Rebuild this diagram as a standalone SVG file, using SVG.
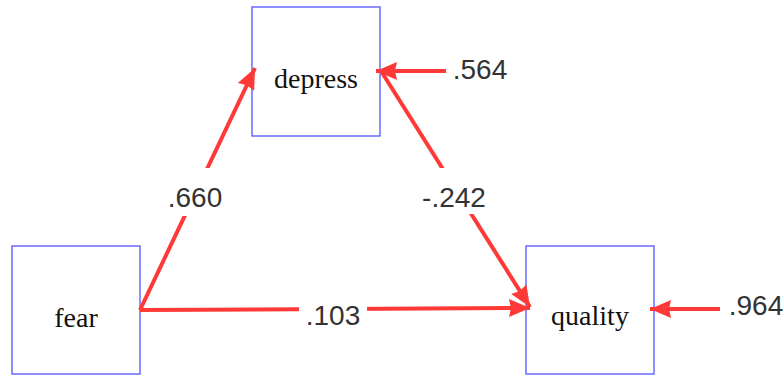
<svg xmlns="http://www.w3.org/2000/svg" width="784" height="376" viewBox="0 0 784 376">
<defs>
<style>
.box{fill:#fff;stroke:#6a6aff;stroke-width:1.5}
.nt{font-family:"Liberation Serif",serif;font-size:28px;fill:#111;text-anchor:middle}
.lb{font-family:"Liberation Sans",Arial,sans-serif;font-size:28px;fill:#333;text-anchor:middle}
.ln{stroke:#ff3838;stroke-width:4;fill:none;marker-end:url(#ah)}
.bg{fill:#fff}
</style>
<marker id="ah" markerUnits="userSpaceOnUse" markerWidth="24" markerHeight="24" viewBox="0 0 24 24" refX="22" refY="12" orient="auto">
<path d="M1,3 L22,12 L1,21 L3,12 Z" fill="#ff3838"/>
</marker>
</defs>
<rect width="784" height="376" fill="#fff"/>
<g id="depress">
<rect class="box" x="252" y="7" width="128" height="129"/>
<text class="nt" x="316" y="88">depress</text>
</g>
<g id="fear">
<rect class="box" x="12" y="246" width="128" height="128"/>
<text class="nt" x="76" y="327">fear</text>
</g>
<g id="quality">
<rect class="box" x="526" y="246" width="128" height="128"/>
<text class="nt" x="590" y="325">quality</text>
</g>
<g id="connectors">
<line class="ln" x1="140" y1="310" x2="255" y2="68"/>
<line class="ln" x1="381" y1="71" x2="530" y2="307"/>
<line class="ln" x1="140" y1="310" x2="530" y2="308"/>
<line class="ln" x1="446" y1="71" x2="376" y2="71"/>
<line class="ln" x1="720" y1="309" x2="650" y2="309"/>
<rect class="bg" x="164" y="168" width="62" height="48"/>
<rect class="bg" x="418" y="168" width="72" height="46"/>
<rect class="bg" x="299" y="296" width="68" height="34"/>
<text class="lb" x="195" y="207">.660</text>
<text class="lb" x="454" y="207">-.242</text>
<text class="lb" x="333" y="325">.103</text>
<text class="lb" x="480" y="79">.564</text>
<text class="lb" x="756" y="315">.964</text>
</g>
</svg>
